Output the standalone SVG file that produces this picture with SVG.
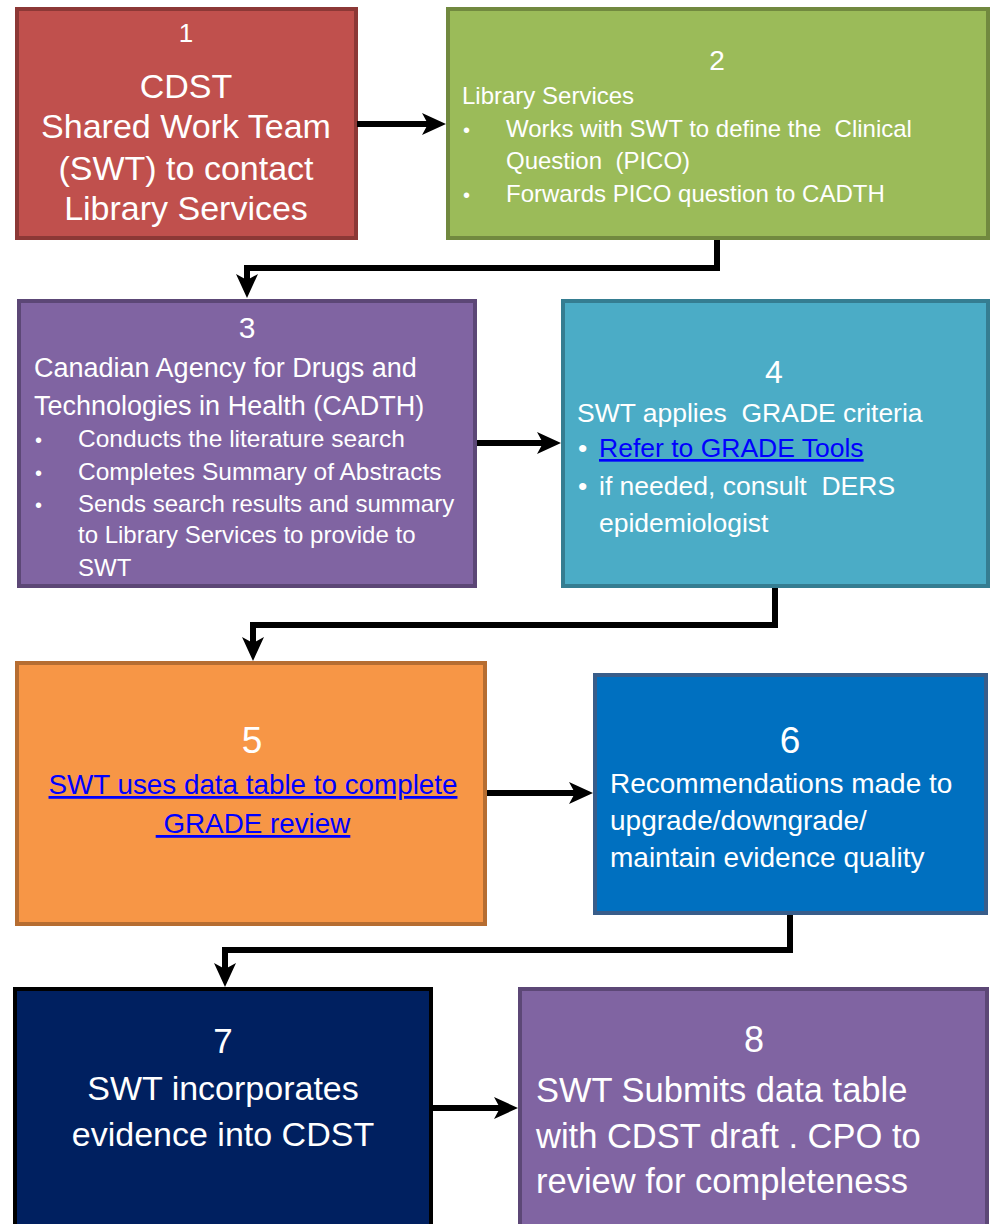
<svg xmlns="http://www.w3.org/2000/svg" width="992" height="1224" viewBox="0 0 992 1224">
<style>
text{font-family:"Liberation Sans",Arial,sans-serif;fill:#fff}
.c{text-anchor:middle}
.link{fill:#0000ff;text-decoration:underline}
.box{stroke-width:4}
.conn{fill:none;stroke:#000;stroke-width:6;stroke-linejoin:miter;marker-end:url(#ah)}
</style>
<defs>
<marker id="ah" markerUnits="userSpaceOnUse" markerWidth="24" markerHeight="24" viewBox="0 0 24 24" refX="12" refY="12" orient="auto"><path d="M0,1 L24,12 L0,23 L6,12 Z" fill="#000"/></marker>
</defs>
<rect width="992" height="1224" fill="#fff"/>

<g id="node1">
<rect class="box" x="17" y="9" width="339" height="229" fill="#C0504D" stroke="#8C3836"/>
<text class="c" x="186" y="42" font-size="26">1</text>
<text class="c" x="186" y="98" font-size="34">CDST</text>
<text class="c" x="186" y="138" font-size="34">Shared Work Team</text>
<text class="c" x="186" y="180" font-size="34">(SWT) to contact</text>
<text class="c" x="186" y="220" font-size="34">Library Services</text>
</g>

<g id="node2">
<rect class="box" x="448" y="9" width="540" height="229" fill="#9BBB59" stroke="#71893F"/>
<text class="c" x="717" y="70" font-size="28">2</text>
<text x="462" y="104" font-size="24">Library Services</text>
<text x="463" y="137" font-size="20">•</text>
<text x="506" y="137" font-size="24" xml:space="preserve">Works with SWT to define the  Clinical</text>
<text x="506" y="169" font-size="24" xml:space="preserve">Question  (PICO)</text>
<text x="463" y="202" font-size="20">•</text>
<text x="506" y="202" font-size="24">Forwards PICO question to CADTH</text>
</g>

<g id="node3">
<rect class="box" x="19" y="301" width="456" height="285" fill="#8064A2" stroke="#5C4776"/>
<text class="c" x="247" y="338" font-size="30">3</text>
<text x="34" y="377" font-size="27">Canadian Agency for Drugs and</text>
<text x="34" y="415" font-size="27">Technologies in Health (CADTH)</text>
<text x="35" y="447" font-size="20">•</text>
<text x="78" y="447" font-size="24.5">Conducts the literature search</text>
<text x="35" y="480" font-size="20">•</text>
<text x="78" y="480" font-size="24.5">Completes Summary of Abstracts</text>
<text x="35" y="512" font-size="20">•</text>
<text x="78" y="512" font-size="24">Sends search results and summary</text>
<text x="78" y="543" font-size="24">to Library Services to provide to</text>
<text x="78" y="576" font-size="24">SWT</text>
</g>

<g id="node4">
<rect class="box" x="563" y="301" width="425" height="285" fill="#4BACC6" stroke="#357D91"/>
<text class="c" x="774" y="383" font-size="32">4</text>
<text x="577" y="422" font-size="26.5" xml:space="preserve">SWT applies  GRADE criteria</text>
<text x="578" y="457" font-size="26.5">•</text>
<text class="link" x="599" y="457" font-size="26.5">Refer to GRADE Tools</text>
<text x="578" y="495" font-size="26.5">•</text>
<text x="599" y="495" font-size="26.5" xml:space="preserve">if needed, consult  DERS</text>
<text x="599" y="532" font-size="26.5">epidemiologist</text>
</g>

<g id="node5">
<rect class="box" x="17" y="663" width="468" height="261" fill="#F79646" stroke="#B66D31"/>
<text class="c" x="252" y="753" font-size="37">5</text>
<text class="c link" x="253" y="794" font-size="27.8">SWT uses data table to complete</text>
<text class="c link" x="253" y="833" font-size="27.8">&#160;GRADE review</text>
</g>

<g id="node6">
<rect class="box" x="595" y="675" width="391" height="238" fill="#0070C0" stroke="#385D8A"/>
<text class="c" x="790" y="753" font-size="37">6</text>
<text x="610" y="793" font-size="28">Recommendations made to</text>
<text x="610" y="830" font-size="28">upgrade/downgrade/</text>
<text x="610" y="867" font-size="28">maintain evidence quality</text>
</g>

<g id="node7">
<rect class="box" x="15" y="989" width="416" height="245" fill="#002060" stroke="#000"/>
<text class="c" x="223" y="1053" font-size="35">7</text>
<text class="c" x="223" y="1100" font-size="34">SWT incorporates</text>
<text class="c" x="223" y="1146" font-size="34">evidence into CDST</text>
</g>

<g id="node8">
<rect class="box" x="520" y="989" width="467" height="245" fill="#8064A2" stroke="#5C4776"/>
<text class="c" x="754" y="1052" font-size="36">8</text>
<text x="536" y="1102" font-size="34.5">SWT Submits data table</text>
<text x="536" y="1148" font-size="34.5">with CDST draft . CPO to</text>
<text x="536" y="1193" font-size="34.5">review for completeness</text>
</g>

<g id="connectors">
<path class="conn" d="M357,124 H434"/>
<path class="conn" d="M717,240 V268 H247 V286"/>
<path class="conn" d="M477,443 H549"/>
<path class="conn" d="M775,588 V625 H253 V649"/>
<path class="conn" d="M487,793 H581"/>
<path class="conn" d="M790,915 V950 H225 V975"/>
<path class="conn" d="M433,1108 H506"/>
</g>
</svg>
